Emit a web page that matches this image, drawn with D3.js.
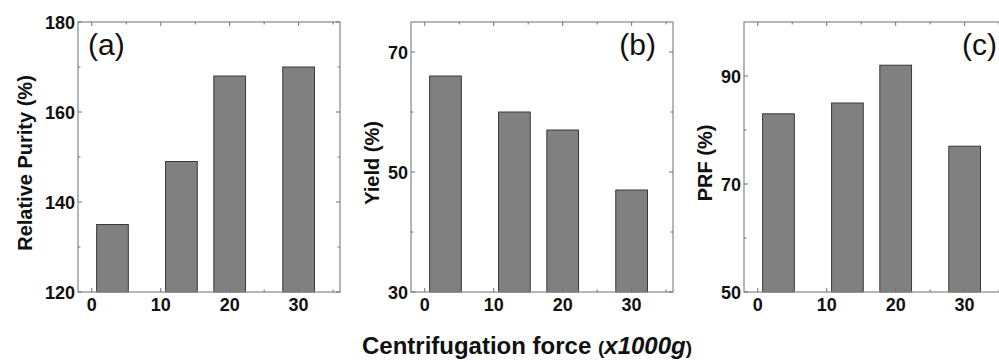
<!DOCTYPE html>
<head>
<meta charset="utf-8">
<script src="https://d3js.org/d3.v7.min.js"></script>
<style>
  body { margin: 0; background: #fff; }
  text { font-family: "Liberation Sans", Arial, sans-serif; fill: #111; }
  .tick-label { font-size: 18px; font-weight: bold; }
  .ytitle { font-size: 20px; font-weight: bold; }
  .panel-label { font-size: 30px; }
</style>
</head>
<body>
<div id="chart"></div>
<script>
// centrifugation force (x1000 g) of each bar
var force = [3, 13, 20, 30];
var xTicks = [0, 10, 20, 30];
var xMinor = [5, 15, 25, 35];

var purity = [135, 149, 168, 170];
var yieldPct = [66, 60, 57, 47];
var prf = [83, 85, 92, 77];

var panels = [
  {values: purity, label: "(a)", title: "Relative Purity (%)", domain: [120, 180],
   ticks: [120, 140, 160, 180], minor: [130, 150, 170], left: 78, labelSide: "left", titleDx: -46},
  {values: yieldPct, label: "(b)", title: "Yield (%)", domain: [30, 75],
   ticks: [30, 50, 70], minor: [40, 60], left: 411, labelSide: "right", titleDx: -32},
  {values: prf, label: "(c)", title: "PRF (%)", domain: [50, 100],
   ticks: [50, 70, 90], minor: [60, 80], left: 744, labelSide: "right", titleDx: -32}
];

var W = 999, H = 362;
var plotTop = 22, plotBottom = 292, pw = 262;
var barWidth = 4.6;

var svg = d3.select("#chart").append("svg")
  .attr("width", W).attr("height", H);

panels.forEach(function(p) {
  var g = svg.append("g").attr("transform", "translate(" + p.left + ",0)");
  var x = d3.scaleLinear().domain([-2, 36]).range([0, pw]);
  var y = d3.scaleLinear().domain(p.domain).range([plotBottom, plotTop]);

  // bars
  g.selectAll("rect.bar")
    .data(p.values)
    .enter().append("rect")
      .attr("class", "bar")
      .attr("x", function(d, i) { return x(force[i] - barWidth / 2); })
      .attr("width", x(barWidth) - x(0))
      .attr("y", function(d) { return y(d); })
      .attr("height", function(d) { return plotBottom - y(d); })
      .style("fill", "#808080")
      .style("stroke", "#3a3a3a")
      .style("stroke-width", 1);

  // frame
  g.append("rect")
    .attr("x", 0).attr("y", plotTop)
    .attr("width", pw).attr("height", plotBottom - plotTop)
    .style("fill", "none").style("stroke", "#909090").style("stroke-width", 1.3);

  // inward ticks on all sides
  var tk = g.append("g").style("stroke", "#707070").style("stroke-width", 1);
  xTicks.concat(xMinor).forEach(function(v) {
    var len = xTicks.indexOf(v) >= 0 ? 4 : 2.5;
    tk.append("line").attr("x1", x(v)).attr("x2", x(v)).attr("y1", plotBottom).attr("y2", plotBottom - len);
    tk.append("line").attr("x1", x(v)).attr("x2", x(v)).attr("y1", plotTop).attr("y2", plotTop + len);
  });
  p.ticks.concat(p.minor).forEach(function(v) {
    var len = p.ticks.indexOf(v) >= 0 ? 4 : 2.5;
    tk.append("line").attr("x1", 0).attr("x2", len).attr("y1", y(v)).attr("y2", y(v));
    tk.append("line").attr("x1", pw).attr("x2", pw - len).attr("y1", y(v)).attr("y2", y(v));
  });

  // tick labels
  g.selectAll("text.xl")
    .data(xTicks)
    .enter().append("text")
      .attr("class", "tick-label")
      .attr("x", function(d) { return x(d); })
      .attr("y", 311)
      .attr("text-anchor", "middle")
      .text(function(d) { return d; });

  g.selectAll("text.yl")
    .data(p.ticks)
    .enter().append("text")
      .attr("class", "tick-label")
      .attr("x", -3)
      .attr("y", function(d) { return y(d) + 6.5; })
      .attr("text-anchor", "end")
      .text(function(d) { return d; });

  // axis title
  g.append("text")
    .attr("class", "ytitle")
    .attr("transform", "translate(" + p.titleDx + "," + ((plotTop + plotBottom) / 2 + 6) + ") rotate(-90)")
    .attr("text-anchor", "middle")
    .text(p.title);

  // panel label
  g.append("text")
    .attr("class", "panel-label")
    .attr("x", p.labelSide == "left" ? 10 : (p.label == "(b)" ? pw - 17 : pw - 9))
    .attr("y", 55)
    .attr("text-anchor", p.labelSide == "left" ? "start" : "end")
    .text(p.label);
});

// shared x title
var xt = svg.append("text")
  .attr("x", 527).attr("y", 354)
  .attr("text-anchor", "middle")
  .style("font-size", "24px").style("font-weight", "bold");
xt.append("tspan").text("Centrifugation force ");
xt.append("tspan").style("font-size", "19px").text("(");
xt.append("tspan").style("font-style", "italic").text("x1000g");
xt.append("tspan").style("font-size", "19px").text(")");
</script>
</body>
